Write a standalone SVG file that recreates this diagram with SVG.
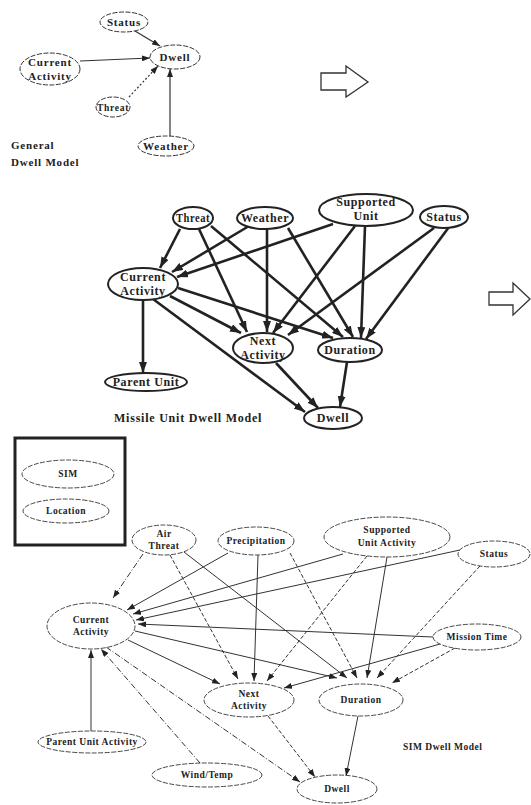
<svg xmlns="http://www.w3.org/2000/svg" width="531" height="805" viewBox="0 0 531 805">
<defs>
<marker id="ah" markerUnits="userSpaceOnUse" markerWidth="8" markerHeight="6" refX="8" refY="3" orient="auto"><path d="M0,0 L8,3 L0,6 z" fill="#222"/></marker>
<marker id="ahb" markerUnits="userSpaceOnUse" markerWidth="11" markerHeight="8" refX="11" refY="4" orient="auto"><path d="M0,0 L11,4 L0,8 z" fill="#222"/></marker>
<style>
text{font-family:"Liberation Serif","Times New Roman",serif;font-weight:bold;fill:#222;text-anchor:middle}
.t1{font-size:11px;letter-spacing:0.8px}
.t2{font-size:12px;letter-spacing:0.6px}
.t3{font-size:9.5px;letter-spacing:0.5px}
.lab{text-anchor:start}
.n1 ellipse{fill:#fff;stroke:#333;stroke-width:1;stroke-dasharray:5 1.5}
.n2 ellipse{fill:#fff;stroke:#222;stroke-width:2}
.n3 ellipse{fill:#fff;stroke:#333;stroke-width:0.9;stroke-dasharray:5 1.5}
.e1{stroke:#333;stroke-width:1.2;fill:none;marker-end:url(#ah)}
.e2{stroke:#222;stroke-width:2.6;fill:none;marker-end:url(#ahb)}
.e3{stroke:#333;stroke-width:1;fill:none;marker-end:url(#ah)}
.dsh{stroke-dasharray:4 2}
.dd{stroke-dasharray:6 2 1 2}
.dot{stroke-dasharray:2 2}
.bigarrow{fill:#fff;stroke:#333;stroke-width:1.3}
</style>
</defs>
<rect width="531" height="805" fill="#fff"/>

<!-- General Dwell Model -->
<g id="edges-general">
<line class="e1" x1="135" y1="31" x2="160" y2="46"/>
<line class="e1" x1="80" y1="61" x2="150" y2="58"/>
<line class="e1 dot" x1="129" y1="97" x2="158" y2="66"/>
<line class="e1" x1="170" y1="136" x2="170" y2="69"/>
</g>
<g id="g-status" class="n1"><ellipse cx="124" cy="22" rx="24" ry="10"/><text class="t1" x="124" y="26">Status</text></g>
<g id="g-dwell" class="n1"><ellipse cx="175" cy="57" rx="25" ry="12"/><text class="t1" x="175" y="61">Dwell</text></g>
<g id="g-current" class="n1"><ellipse cx="50" cy="69" rx="30" ry="16"/><text class="t1" x="50" y="66">Current</text><text class="t1" x="50" y="80">Activity</text></g>
<g id="g-threat" class="n1"><ellipse cx="113" cy="107" rx="17" ry="10"/><text class="t1" x="113" y="111" textLength="32" lengthAdjust="spacingAndGlyphs">Threat</text></g>
<g id="g-weather" class="n1"><ellipse cx="166" cy="146" rx="28" ry="10"/><text class="t1" x="166" y="150">Weather</text></g>
<text class="t1 lab" x="11" y="149">General</text>
<text class="t1 lab" x="11" y="166">Dwell Model</text>

<polygon id="arrow1" class="bigarrow" points="321,73 346,73 346,66 368,82 346,97 346,90 321,90"/>

<!-- Missile Unit Dwell Model -->
<g id="edges-missile">
<line class="e2" x1="180" y1="229" x2="160" y2="268"/>
<line class="e2" x1="199" y1="229" x2="247" y2="332"/>
<line class="e2" x1="211" y1="226" x2="343" y2="337"/>
<line class="e2" x1="249" y1="226" x2="172" y2="272"/>
<line class="e2" x1="267" y1="229" x2="267" y2="332"/>
<line class="e2" x1="288" y1="228" x2="353" y2="337"/>
<line class="e2" x1="333" y1="224" x2="177" y2="277"/>
<line class="e2" x1="355" y1="226" x2="273" y2="333"/>
<line class="e2" x1="365" y1="226" x2="361" y2="338"/>
<line class="e2" x1="434" y1="228" x2="288" y2="335"/>
<line class="e2" x1="449" y1="227" x2="366" y2="339"/>
<line class="e2" x1="170" y1="296" x2="241" y2="333"/>
<line class="e2" x1="178" y1="288" x2="333" y2="338"/>
<line class="e2" x1="143" y1="300" x2="143" y2="373"/>
<line class="e2" x1="153" y1="299" x2="305" y2="412"/>
<line class="e2" x1="276" y1="363" x2="318" y2="408"/>
<line class="e2" x1="347" y1="362" x2="340" y2="407"/>
</g>
<g id="m-threat" class="n2"><ellipse cx="193" cy="218" rx="20" ry="11"/><text class="t2" x="193" y="222" textLength="34" lengthAdjust="spacingAndGlyphs">Threat</text></g>
<g id="m-weather" class="n2"><ellipse cx="265" cy="218" rx="28" ry="11"/><text class="t2" x="265" y="222">Weather</text></g>
<g id="m-supported" class="n2"><ellipse cx="366" cy="210" rx="47" ry="16"/><text class="t2" x="366" y="206">Supported</text><text class="t2" x="366" y="220">Unit</text></g>
<g id="m-status" class="n2"><ellipse cx="444" cy="217" rx="24" ry="11"/><text class="t2" x="444" y="221">Status</text></g>
<g id="m-current" class="n2"><ellipse cx="143" cy="284" rx="35" ry="16"/><text class="t2" x="143" y="281">Current</text><text class="t2" x="143" y="295">Activity</text></g>
<g id="m-next" class="n2"><ellipse cx="263" cy="348" rx="30" ry="15"/><text class="t2" x="263" y="345">Next</text><text class="t2" x="263" y="359">Activity</text></g>
<g id="m-duration" class="n2"><ellipse cx="350" cy="350" rx="32" ry="12"/><text class="t2" x="350" y="354">Duration</text></g>
<g id="m-parent" class="n2"><ellipse cx="146" cy="382" rx="41" ry="9"/><text class="t2" x="146" y="386">Parent Unit</text></g>
<g id="m-dwell" class="n2"><ellipse cx="333" cy="418" rx="29" ry="11"/><text class="t2" x="333" y="422">Dwell</text></g>
<text class="t2 lab" x="114" y="422" textLength="148" lengthAdjust="spacing">Missile Unit Dwell Model</text>

<polygon id="arrow2" class="bigarrow" points="489,292 513,292 513,283 530,299 513,315 513,305 489,305"/>

<!-- Legend -->
<g id="legend">
<rect x="15" y="438" width="110" height="107" fill="#fff" stroke="#222" stroke-width="3"/>
<g id="l-sim" class="n3"><ellipse cx="68" cy="474" rx="46" ry="14"/><text class="t3" x="68" y="477">SIM</text></g>
<g id="l-location" class="n3"><ellipse cx="66" cy="511" rx="43" ry="12"/><text class="t3" x="66" y="514">Location</text></g>
</g>

<!-- SIM Dwell Model -->
<g id="edges-sim">
<line class="e3 dd" x1="143" y1="554" x2="113" y2="598"/>
<line class="e3 dsh" x1="170" y1="555" x2="238" y2="679"/>
<line class="e3" x1="184" y1="552" x2="347" y2="678"/>
<line class="e3" x1="228" y1="553" x2="127" y2="610"/>
<line class="e3" x1="258" y1="555" x2="254" y2="681"/>
<line class="e3 dsh" x1="290" y1="553" x2="357" y2="678"/>
<line class="e3" x1="343" y1="554" x2="133" y2="614"/>
<line class="e3 dsh" x1="367" y1="556" x2="267" y2="681"/>
<line class="e3" x1="387" y1="557" x2="367" y2="678"/>
<line class="e3" x1="460" y1="550" x2="136" y2="620"/>
<line class="e3 dsh" x1="480" y1="566" x2="377" y2="678"/>
<line class="e3" x1="433" y1="637" x2="138" y2="624"/>
<line class="e3" x1="440" y1="644" x2="284" y2="688"/>
<line class="e3 dsh" x1="455" y1="648" x2="392" y2="683"/>
<line class="e3" x1="128" y1="640" x2="220" y2="684"/>
<line class="e3" x1="135" y1="631" x2="337" y2="678"/>
<line class="e3 dd" x1="106" y1="647" x2="300" y2="782"/>
<line class="e3" x1="91" y1="731" x2="91" y2="650"/>
<line class="e3 dd" x1="200" y1="763" x2="101" y2="649"/>
<line class="e3 dsh" x1="268" y1="716" x2="315" y2="777"/>
<line class="e3" x1="358" y1="716" x2="346" y2="776"/>
</g>
<g id="s-airthreat" class="n3"><ellipse cx="164" cy="540" rx="32" ry="15"/><text class="t3" x="164" y="537">Air</text><text class="t3" x="164" y="549">Threat</text></g>
<g id="s-precip" class="n3"><ellipse cx="256" cy="541" rx="38" ry="14"/><text class="t3" x="256" y="544">Precipitation</text></g>
<g id="s-supported" class="n3"><ellipse cx="387" cy="537" rx="63" ry="20"/><text class="t3" x="387" y="533">Supported</text><text class="t3" x="387" y="546">Unit Activity</text></g>
<g id="s-status" class="n3"><ellipse cx="494" cy="554" rx="36" ry="13"/><text class="t3" x="494" y="557">Status</text></g>
<g id="s-mission" class="n3"><ellipse cx="477" cy="637" rx="44" ry="13"/><text class="t3" x="477" y="640">Mission Time</text></g>
<g id="s-current" class="n3"><ellipse cx="91" cy="626" rx="44" ry="23"/><text class="t3" x="91" y="623">Current</text><text class="t3" x="91" y="635">Activity</text></g>
<g id="s-next" class="n3"><ellipse cx="249" cy="700" rx="45" ry="17"/><text class="t3" x="249" y="697">Next</text><text class="t3" x="249" y="709">Activity</text></g>
<g id="s-duration" class="n3"><ellipse cx="361" cy="700" rx="42" ry="16"/><text class="t3" x="361" y="703">Duration</text></g>
<g id="s-parent" class="n3"><ellipse cx="92" cy="742" rx="54" ry="11"/><text class="t3" x="92" y="745">Parent Unit Activity</text></g>
<g id="s-wind" class="n3"><ellipse cx="207" cy="775" rx="55" ry="12"/><text class="t3" x="207" y="778">Wind/Temp</text></g>
<g id="s-dwell" class="n3"><ellipse cx="337" cy="789" rx="40" ry="14"/><text class="t3" x="337" y="792">Dwell</text></g>
<text class="t3 lab" x="403" y="750">SIM Dwell Model</text>
</svg>
